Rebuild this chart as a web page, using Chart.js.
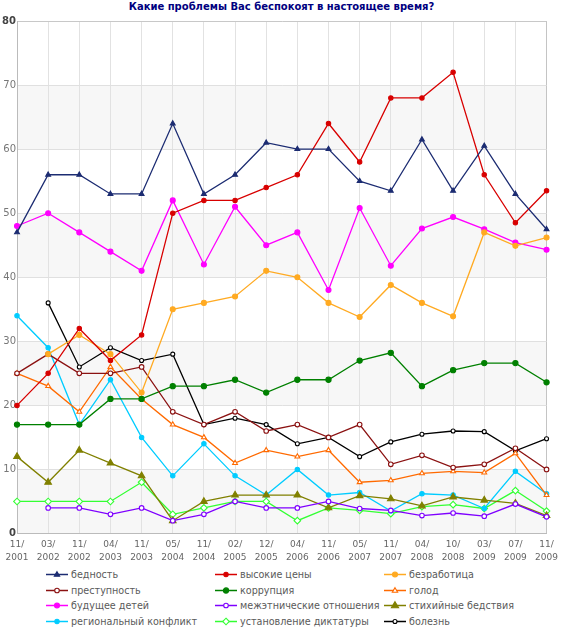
<!DOCTYPE html>
<html><head><meta charset="utf-8">
<script src="https://cdn.jsdelivr.net/npm/chart.js@4.4.0/dist/chart.umd.min.js"></script>
<style>
html,body{margin:0;padding:0;background:#fff;}
#wrap{position:relative;width:563px;height:627px;overflow:hidden;}
#title{position:absolute;left:0;top:0;width:563px;text-align:center;font:bold 10px "DejaVu Sans";color:#000080;line-height:14px;}
#cv{position:absolute;left:0;top:0;}
#legend{position:absolute;left:0;top:567px;width:563px;}
.li{position:absolute;height:15px;font:9.6px "DejaVu Sans";color:#5a5a5a;line-height:15px;white-space:nowrap;}
.li canvas{position:absolute;left:0;top:0;}
.li span{position:absolute;left:25px;top:0;}
</style></head>
<body><div id="wrap"><div id="title">Какие проблемы Вас беспокоят в настоящее время?</div><canvas id="cv" width="563" height="566"></canvas><div id="legend"></div></div>
<script>
const categories = ['11/2001','03/2002','11/2002','04/2003','11/2003','05/2004','11/2004','02/2005','12/2005','04/2006','11/2006','05/2007','11/2007','04/2008','10/2008','03/2009','07/2009','11/2009'];
const yTicks = [0,10,20,30,40,50,60,70,80];
const seriesNames = ['бедность','высокие цены','безработица','преступность','коррупция','голод','будущее детей','межэтнические отношения','стихийные бедствия','региональный конфликт','установление диктатуры','болезнь'];
const poverty      = [47,56,56,53,53,64,53,56,61,60,60,55,53.5,61.5,53.5,60.5,53,47.5];
const prices       = [20,25,32,27,31,50,52,52,54,56,64,58,68,68,72,56,48.5,53.5];
const unemployment = [null,28,31,28,22,35,36,37,41,40,36,33.8,38.8,36,33.9,47,44.9,46.2];
const crime        = [25,28,25,25,26,19,17,19,16,17,15,17,10.8,12.2,10.3,10.8,13.3,10];
const corruption   = [17,17,17,21,21,23,23,24,22,24,24,27,28.2,23,25.5,26.6,26.6,23.6];
const hunger       = [25,23,19,26,21,17,15,11,13,12,13,8,8.3,9.4,9.7,9.5,12.5,6];
const children     = [48,50,47,44,41,52,42,51,45,47,38,50.8,41.8,47.6,49.4,47.5,45.4,44.3];
const ethnic       = [null,4,4,3,4,2,3,5,4,4,5,3.9,3.6,2.8,3.2,2.7,4.6,2.6];
const disasters    = [12,8,13,11,9,2,5,6,6,6,4,5.9,5.4,4.3,5.7,5.2,4.7,2.8];
const regional     = [34,29,17,24,15,9,14,9,6,10,6,6.4,3.5,6.2,6,3.9,9.7,6.2];
const dictatorship = [5,5,5,5,8,3,4,5,5,2,4,3.6,3.1,4.2,4.5,3.9,6.7,3.5];
const illness      = [null,36,26,29,27,28,17,18,17,14,15,12,14.3,15.5,16,15.9,12.9,14.8];

const seriesData = [poverty,prices,unemployment,crime,corruption,hunger,children,ethnic,disasters,regional,dictatorship,illness];
const colors = ['#1c2c72','#d80000','#ffaa22','#8b1212','#008000','#ff6a00','#ff00ff','#7f00ff','#808000','#00ccff','#33ff33','#000000'];
const styles = [
 {ps:'triangle',r:2.8,open:false},
 {ps:'circle',r:2.2,open:false},
 {ps:'circle',r:2.5,open:false},
 {ps:'circle',r:2.3,open:true},
 {ps:'circle',r:2.6,open:false},
 {ps:'triangle',r:2.8,open:true},
 {ps:'circle',r:2.5,open:false},
 {ps:'circle',r:2.3,open:true},
 {ps:'triangle',r:3.8,open:false},
 {ps:'circle',r:2.2,open:false},
 {ps:'rectRot',r:3.3,open:true},
 {ps:'circle',r:2,open:true}
];

const datasets = seriesNames.map((n,i)=>({
  label:n,
  data:seriesData[i],
  borderColor:colors[i],
  backgroundColor:colors[i],
  borderWidth:1.3,
  pointStyle:styles[i].ps,
  pointRadius:styles[i].r,
  pointBackgroundColor:styles[i].open?'#ffffff':colors[i],
  pointBorderColor:colors[i],
  pointBorderWidth:1.1,
  tension:0,
  spanGaps:false
}));

const bands = {
  id:'bands',
  beforeDraw(chart){
    const {ctx,chartArea:a,scales:{y}} = chart;
    ctx.save();
    ctx.fillStyle='#f7f7f7';
    for(let i=0;i<yTicks.length-1;i+=2){
      const t=y.getPixelForValue(yTicks[i+1]), b=y.getPixelForValue(yTicks[i]);
      ctx.fillRect(a.left,t,a.right-a.left,b-t);
    }
    ctx.restore();
  }
};

new Chart(document.getElementById('cv'),{
  type:'line',
  data:{labels:categories.map(c=>{const p=c.split('/');return [p[0]+'/',p[1]];}),datasets},
  options:{
    responsive:false,animation:false,
    layout:{padding:{top:21,left:0,right:0,bottom:0}},
    plugins:{legend:{display:false},tooltip:{enabled:false},title:{display:false}},
    scales:{
      x:{offset:false,
        grid:{color:(c)=>c.index===categories.length-1?'#c4c4c4':'#e2e2e2',drawTicks:false,lineWidth:1},
        border:{color:'#bbbbbb'},
        ticks:{autoSkip:false,maxRotation:0,padding:5,color:'#666',font:{family:'DejaVu Sans',size:9,lineHeight:1.45}},
        afterFit:(s)=>{s.height=32.5;}
      },
      y:{min:0,max:80,
        afterBuildTicks:(s)=>{s.ticks=yTicks.map(v=>({value:v}));},
        grid:{color:(c)=>c.tick&&c.tick.value===80?'#c8c8c8':'#e0e0e0',drawTicks:false},
        border:{color:'#bbbbbb'},
        ticks:{padding:1,
          color:(c)=>(c.tick.value===0||c.tick.value===80)?'#444':'#777',
          font:(c)=>({family:'DejaVu Sans',size:10,weight:(c.tick&&(c.tick.value===0||c.tick.value===80))?'bold':'normal'})},
        afterFit:(s)=>{s.width=17;}
      }
    }
  },
  plugins:[bands]
});

function drawMarker(ctx,st,col,x,y){
  ctx.beginPath();
  const r=st.r;
  if(st.ps==='circle'){ctx.arc(x,y,r,0,Math.PI*2);}
  else if(st.ps==='triangle'){ctx.moveTo(x,y-r);ctx.lineTo(x+r*0.95,y+r*0.6);ctx.lineTo(x-r*0.95,y+r*0.6);ctx.closePath();}
  else {ctx.moveTo(x,y-r);ctx.lineTo(x+r,y);ctx.lineTo(x,y+r);ctx.lineTo(x-r,y);ctx.closePath();}
  ctx.fillStyle=st.open?'#fff':col;ctx.fill();
  ctx.strokeStyle=col;ctx.lineWidth=1.1;ctx.stroke();
}
const lg=document.getElementById('legend');
const colX=[46,215,384];
seriesNames.forEach((n,i)=>{
  const d=document.createElement('div');d.className='li';
  d.style.left=colX[i%3]+'px';d.style.top=(Math.floor(i/3)*15.5)+'px';
  const c=document.createElement('canvas');c.width=24;c.height=15;
  const ctx=c.getContext('2d');
  ctx.strokeStyle=colors[i];ctx.lineWidth=1.5;ctx.beginPath();ctx.moveTo(0,7.5);ctx.lineTo(22,7.5);ctx.stroke();
  drawMarker(ctx,styles[i],colors[i],11,7.5);
  const s=document.createElement('span');s.textContent=n;
  d.appendChild(c);d.appendChild(s);lg.appendChild(d);
});
</script></body></html>
